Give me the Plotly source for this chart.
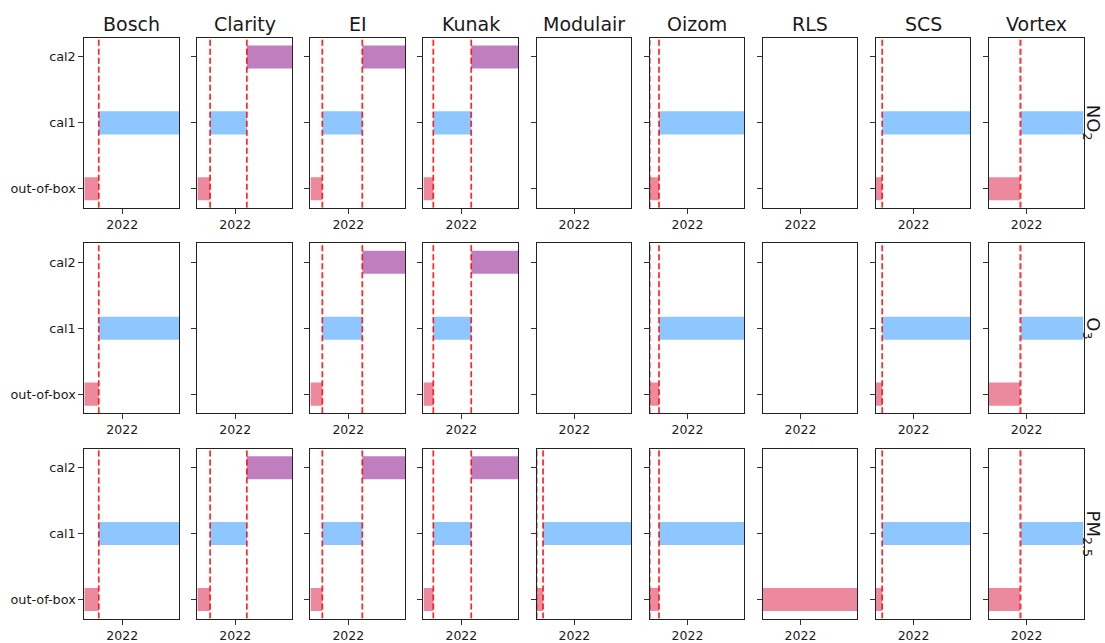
import plotly.graph_objects as go
from datetime import datetime

# ---------------- data ----------------
sensors = ["Bosch", "Clarity", "EI", "Kunak", "Modulair", "Oizom", "RLS", "SCS", "Vortex"]
pollutants = ["NO<sub>2</sub>", "O<sub>3</sub>", "PM<sub>2.5</sub>"]
periods = ["out-of-box", "cal1", "cal2"]

x_start = "2021-10-01"
x_end = "2022-05-19"
tick_dates = ["2022-01-01"]
tick_labels = ["2022"]

# (start, end) of each period per sensor
bosch_dates = {"out-of-box": ("2021-10-01", "2021-11-05"), "cal1": ("2021-11-05", "2022-05-19")}
clarity_dates = {"out-of-box": ("2021-10-01", "2021-11-01"), "cal1": ("2021-11-01", "2022-01-29"),
                 "cal2": ("2022-01-29", "2022-05-19")}
ei_dates = {"out-of-box": ("2021-10-01", "2021-10-30"), "cal1": ("2021-10-30", "2022-02-04"),
            "cal2": ("2022-02-04", "2022-05-19")}
kunak_dates = {"out-of-box": ("2021-10-01", "2021-10-25"), "cal1": ("2021-10-25", "2022-01-25"),
               "cal2": ("2022-01-25", "2022-05-19")}
modulair_dates = {"out-of-box": ("2021-10-02", "2021-10-17"), "cal1": ("2021-10-17", "2022-05-19")}
oizom_dates = {"out-of-box": ("2021-10-02", "2021-10-24"), "cal1": ("2021-10-24", "2022-05-19")}
rls_dates = {"out-of-box": ("2021-10-01", "2022-05-19")}
scs_dates = {"out-of-box": ("2021-10-01", "2021-10-17"), "cal1": ("2021-10-17", "2022-05-19")}
vortex_dates = {"out-of-box": ("2021-10-01", "2021-12-16"), "cal1": ("2021-12-18", "2022-05-19")}

sensor_dates = [bosch_dates, clarity_dates, ei_dates, kunak_dates, modulair_dates,
                oizom_dates, rls_dates, scs_dates, vortex_dates]

# periods available per pollutant row, per sensor column
no2_periods = [["out-of-box", "cal1"], ["out-of-box", "cal1", "cal2"], ["out-of-box", "cal1", "cal2"],
               ["out-of-box", "cal1", "cal2"], [], ["out-of-box", "cal1"], [],
               ["out-of-box", "cal1"], ["out-of-box", "cal1"]]
o3_periods = [["out-of-box", "cal1"], [], ["out-of-box", "cal1", "cal2"],
              ["out-of-box", "cal1", "cal2"], [], ["out-of-box", "cal1"], [],
              ["out-of-box", "cal1"], ["out-of-box", "cal1"]]
pm25_periods = [["out-of-box", "cal1"], ["out-of-box", "cal1", "cal2"], ["out-of-box", "cal1", "cal2"],
                ["out-of-box", "cal1", "cal2"], ["out-of-box", "cal1"], ["out-of-box", "cal1"],
                ["out-of-box"], ["out-of-box", "cal1"], ["out-of-box", "cal1"]]
row_periods = [no2_periods, o3_periods, pm25_periods]

period_colors = {"out-of-box": "rgba(220,20,60,0.5)",
                 "cal1": "rgba(30,144,255,0.5)",
                 "cal2": "rgba(128,0,128,0.5)"}

# ---------------- layout geometry (pixels) ----------------
W, H = 1105, 643
col_left0, col_step, panel_w = 84.3, 113.05, 94.8
row_top0, row_step, panel_h = 38.0, 206.0, 170.5
y_lo, y_hi = -0.29, 2.29

FONT = "DejaVu Sans"
TXT = "#1a1a1a"

fig = go.Figure()


def to_dt(s):
    return datetime.strptime(s, "%Y-%m-%d")


annotations = []
for r, prow in enumerate(row_periods):
    for c, sensor in enumerate(sensors):
        idx = r * len(sensors) + c + 1
        xa = "x" if idx == 1 else f"x{idx}"
        ya = "y" if idx == 1 else f"y{idx}"
        dates = sensor_dates[c]
        # invisible anchor trace so that empty panels still draw their axes
        fig.add_trace(go.Scatter(x=[x_start], y=[0], mode="markers",
                                 marker=dict(opacity=0, size=1), xaxis=xa, yaxis=ya,
                                 showlegend=False, hoverinfo="skip"))
        for p in prow[c]:
            s, e = dates[p]
            dur = (to_dt(e) - to_dt(s)).total_seconds() * 1000.0
            fig.add_trace(go.Bar(
                y=[periods.index(p)], x=[dur], base=[s], orientation="h", width=0.35,
                marker=dict(color=period_colors[p], line=dict(width=0)),
                xaxis=xa, yaxis=ya, showlegend=False, hoverinfo="skip"))
        for p in prow[c]:
            for d in dates[p]:
                if d <= x_start or d >= x_end:
                    continue
                fig.add_trace(go.Scatter(
                    x=[d, d], y=[y_lo, y_hi], mode="lines",
                    line=dict(color="rgba(255,0,0,0.6)", width=1.6, dash="6px,3px"),
                    xaxis=xa, yaxis=ya, showlegend=False, hoverinfo="skip"))

        left = col_left0 + c * col_step
        right = left + panel_w
        top = row_top0 + r * row_step
        bottom = top + panel_h
        xkey = "xaxis" if idx == 1 else f"xaxis{idx}"
        ykey = "yaxis" if idx == 1 else f"yaxis{idx}"
        fig.update_layout({
            xkey: dict(domain=[left / W, right / W], anchor=ya, type="date",
                       range=[x_start, x_end], tickvals=tick_dates, ticktext=tick_labels,
                       ticks="outside", ticklen=5, tickwidth=1, tickcolor="#333",
                       showline=True, mirror=True, linecolor="#222", linewidth=1,
                       showgrid=False, zeroline=False,
                       tickfont=dict(family=FONT, size=12.5, color=TXT)),
            ykey: dict(domain=[1 - bottom / H, 1 - top / H], anchor=xa,
                       range=[y_lo, y_hi], tickvals=[0, 1, 2], ticktext=periods,
                       showticklabels=(c == 0),
                       ticks="outside", ticklen=5, tickwidth=1, tickcolor="#333",
                       showline=True, mirror=True, linecolor="#222", linewidth=1,
                       showgrid=False, zeroline=False,
                       tickfont=dict(family=FONT, size=12.8, color=TXT)),
        })
        if r == 0:
            annotations.append(dict(
                x=(left + right) / 2 / W, y=1 - 24 / H, xref="paper", yref="paper",
                text=sensor, showarrow=False, xanchor="center", yanchor="middle",
                font=dict(family=FONT, size=19, color=TXT)))
    rtop = row_top0 + r * row_step
    annotations.append(dict(
        x=1092 / W, y=1 - (rtop + panel_h / 2) / H, xref="paper", yref="paper",
        text=pollutants[r], showarrow=False, xanchor="center", yanchor="middle",
        textangle=90, borderpad=0, font=dict(family=FONT, size=18, color=TXT)))

fig.update_layout(
    width=W, height=H, margin=dict(l=0, r=0, t=0, b=0),
    paper_bgcolor="white", plot_bgcolor="white",
    barmode="overlay", showlegend=False,
    annotations=annotations,
    font=dict(family=FONT, color=TXT),
)

fig.write_html("out.html", config={"displayModeBar": False},
               post_script="document.body.style.margin='0';document.body.style.overflow='hidden';")
